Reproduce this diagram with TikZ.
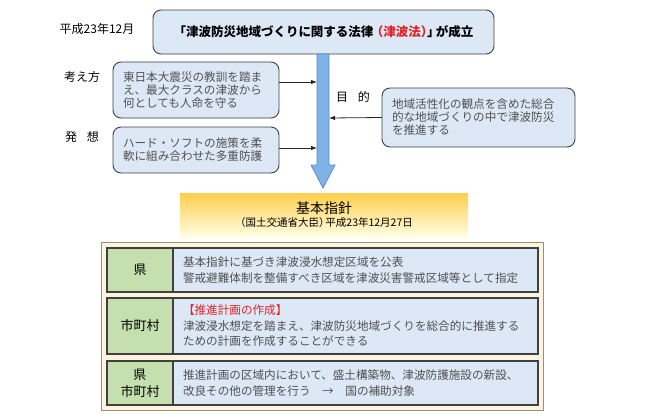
\documentclass[tikz,border=0pt]{standalone}
\usepackage{fontspec}
\setmainfont{Noto Sans CJK JP}
\usetikzlibrary{arrows.meta}

\definecolor{boxblue}{RGB}{221,232,246}
\definecolor{cellgreen}{RGB}{198,223,174}
\definecolor{cream}{RGB}{253,243,225}
\definecolor{creamedge}{RGB}{160,140,112}
\definecolor{arrowblue}{RGB}{127,179,230}
\definecolor{arrowedge}{RGB}{88,142,204}
\definecolor{lawred}{RGB}{225,35,40}
\definecolor{softgray}{RGB}{80,80,80}

\begin{document}
\begin{tikzpicture}[x=1pt,y=-1pt]
                \tikzstyle{frame} = [draw=black!75, fill=boxblue, rounded corners=8pt, line width=0.9pt, outer sep=0pt]
                \tikzstyle{note} = [frame, align=left, inner xsep=10pt, text=softgray, font=\fontsize{11.6}{13}\selectfont]
                \tikzstyle{tag} = [font=\fontsize{12}{14}\selectfont]
                \tikzstyle{cell} = [draw=black!75, line width=1.1pt, outer sep=0pt, minimum height={#1}]
                \tikzstyle{who} = [cell={#1}, fill=cellgreen, minimum width=66pt, align=center, font=\fontsize{13}{17}\selectfont]
                \tikzstyle{what} = [cell={#1}, fill=boxblue, text width=345pt, inner xsep=10pt, align=left, text=softgray, font=\fontsize{11.6}{15.5}\selectfont]
                \tikzstyle{conn} = [line width=0.8pt, black!85, -{Latex[length=6pt,width=4.5pt]}]
                \useasboundingbox (0,0) rectangle (649,416);
                \node[tag] (date) at (97,29) {平成23年12月};
                \node[frame, minimum width=341pt, minimum height=44pt, font=\fontsize{12.5}{15}\selectfont\bfseries] (law) at (323.5,32) {「津波防災地域づくりに関する法律\kern-0.2em\textcolor{lawred}{（津波法）}\kern-0.5em」\kern-0.3em が成立};
                \draw[fill=arrowblue, draw=arrowedge, line width=0.8pt] (317,54) -- (329,54) -- (329,165) -- (335,165) -- (323,188) -- (311,165) -- (317,165) -- cycle;
                \coordinate (in1) at (317,82);
                \coordinate (in2) at (317,148);
                \coordinate (in3) at (329,118);
                \node[tag] (idea) at (82,77) {考え方};
                \node[note, text width=146pt, minimum height=56pt] (lesson) at (196,90) {東日本大震災の教訓を踏ま\\え、最大クラスの津波から\\何としても人命を守る};
                \node[tag] (concept) at (82,137) {発\hspace{0.8em}想};
                \node[note, text width=146pt, minimum height=46pt] (defense) at (196,150) {ハード・ソフトの施策を柔\\軟に組み合わせた多重防護};
                \node[tag] (aim) at (353,97) {目\hspace{0.8em}的};
                \node[note, text width=173pt, minimum height=59pt] (purpose) at (478.5,117.5) {地域活性化の観点を含めた総合\\的な地域づくりの中で津波防災\\を推進する};
                \draw[conn] ([yshift=8pt]lesson.east) -- (in1);
                \draw[conn] ([yshift=2pt]defense.east) -- (in2);
                \draw[conn] (purpose.west) -- (in3);
                \node[minimum width=288pt, minimum height=44pt, top color=orange!55!yellow!70, bottom color=orange!8!yellow!10, align=center] (policy) at (324,215) {{\fontsize{14}{17}\selectfont 基本指針}\\[1pt]{\fontsize{10.5}{13}\selectfont （国土交通省大臣）\kern-0.4em 平成23年12月27日}};
                \draw[fill=cream, draw=creamedge, line width=0.8pt] (101,242) rectangle (543,410);
                \node[who=44pt] (pref) at (140,270) {県};
                \node[what=44pt, anchor=west] (prefdo) at (pref.east) {基本指針に基づき津波浸水想定区域を公表\\警戒避難体制を整備すべき区域を津波災害警戒区域等として指定};
                \node[who=56pt] (city) at (140,326) {市町村};
                \node[what=56pt, anchor=west] (citydo) at (city.east) {\textcolor{lawred}{【推進計画の作成】}\\津波浸水想定を踏まえ、津波防災地域づくりを総合的に推進する\\ための計画を作成することができる};
                \node[who=44pt] (both) at (140,383) {県\\市町村};
                \node[what=44pt, anchor=west] (bothdo) at (both.east) {推進計画の区域内において、盛土構築物、津波防護施設の新設、\\改良その他の管理を行う\hspace{1em}→\hspace{1em}国の補助対象};
            \end{tikzpicture}
\end{document}
